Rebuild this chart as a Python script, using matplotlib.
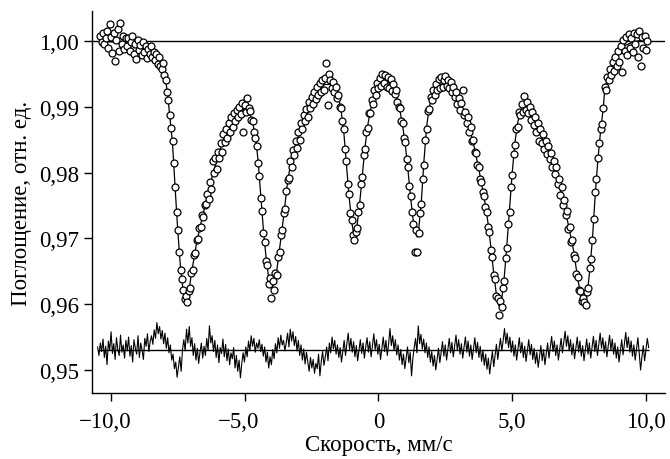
#!/usr/bin/env python3
"""Mossbauer absorption spectrum with fitted envelope and residual trace."""
import numpy as np
import matplotlib
matplotlib.use("Agg")
import matplotlib.pyplot as plt
from matplotlib.transforms import ScaledTranslation

# Measured absorption, units of 1e-4, one channel every 0.05 mm/s from -10.40 to 10.05
ABSORB_E4 = [
    # -10.40 .. -9.45
    10008, 9998, 10012, 9995, 10004, 10015, 9990, 10026, 10006, 9982,
    10012, 9970, 10002, 10018, 9985, 10027, 9996, 10008, 9988, 10004,
    # -9.40 .. -8.45
    9992, 10005, 9985, 9998, 10008, 9980, 9995, 9972, 10002, 9986,
    9994, 9978, 9999, 9983, 9992, 9974, 9988, 9980, 9992, 9976,
    # -8.40 .. -7.45
    9984, 9971, 9980, 9965, 9975, 9962, 9958, 9966, 9948, 9940,
    9923, 9910, 9888, 9868, 9848, 9815, 9778, 9740, 9712, 9680,
    # -7.40 .. -6.45
    9652, 9638, 9622, 9608, 9612, 9603, 9620, 9625, 9648, 9652,
    9674, 9678, 9697, 9699, 9716, 9718, 9735, 9733, 9750, 9752,
    # -6.40 .. -5.45
    9768, 9760, 9786, 9775, 9818, 9800, 9822, 9805, 9832, 9822,
    9845, 9832, 9858, 9846, 9866, 9852, 9875, 9862, 9884, 9870,
    # -5.40 .. -4.45
    9890, 9878, 9895, 9884, 9900, 9889, 9906, 9862, 9903, 9892,
    9914, 9898, 9893, 9880, 9878, 9862, 9852, 9840, 9815, 9795,
    # -4.40 .. -3.45
    9762, 9742, 9708, 9695, 9665, 9660, 9630, 9640, 9610, 9635,
    9622, 9648, 9645, 9672, 9680, 9705, 9712, 9738, 9745, 9772,
    # -3.40 .. -2.45
    9788, 9792, 9818, 9808, 9835, 9826, 9848, 9838, 9862, 9850,
    9875, 9866, 9888, 9878, 9896, 9885, 9908, 9898, 9915, 9905,
    # -2.40 .. -1.45
    9922, 9912, 9930, 9918, 9936, 9922, 9940, 9926, 9944, 9967,
    9903, 9950, 9940, 9928, 9938, 9922, 9930, 9914, 9918, 9900,
    # -1.40 .. -0.45
    9898, 9878, 9866, 9836, 9818, 9782, 9768, 9738, 9728, 9705,
    9698, 9710, 9716, 9740, 9750, 9782, 9794, 9826, 9836, 9862,
    # -0.40 .. 0.55
    9868, 9890, 9890, 9910, 9905, 9925, 9918, 9936, 9928, 9944,
    9932, 9950, 9936, 9948, 9930, 9945, 9928, 9942, 9924, 9935,
    # 0.60 .. 1.55
    9920, 9926, 9908, 9900, 9898, 9878, 9875, 9852, 9846, 9820,
    9808, 9780, 9765, 9740, 9722, 9680, 9712, 9679, 9708, 9738,
    # 1.60 .. 2.55
    9752, 9790, 9812, 9850, 9866, 9893, 9896, 9915, 9910, 9925,
    9918, 9935, 9925, 9942, 9928, 9945, 9930, 9940, 9947, 9932,
    # 2.60 .. 3.55
    9940, 9928, 9938, 9922, 9930, 9915, 9922, 9905, 9914, 9895,
    9906, 9925, 9888, 9892, 9876, 9884, 9862, 9870, 9848, 9850,
    # 3.60 .. 4.55
    9832, 9830, 9812, 9808, 9790, 9786, 9770, 9765, 9748, 9740,
    9718, 9710, 9682, 9672, 9645, 9638, 9612, 9610, 9583, 9605,
    # 4.60 .. 5.55
    9596, 9625, 9635, 9670, 9686, 9722, 9740, 9778, 9796, 9828,
    9842, 9866, 9870, 9892, 9888, 9905, 9892, 9916, 9895, 9908,
    # 5.60 .. 6.55
    9890, 9900, 9880, 9892, 9872, 9884, 9862, 9876, 9848, 9866,
    9845, 9858, 9836, 9848, 9828, 9840, 9820, 9830, 9808, 9818,
    # 6.60 .. 7.55
    9798, 9808, 9782, 9790, 9766, 9778, 9750, 9758, 9735, 9742,
    9715, 9718, 9694, 9698, 9675, 9670, 9646, 9642, 9622, 9620,
    # 7.60 .. 8.55
    9605, 9610, 9603, 9598, 9618, 9625, 9655, 9668, 9698, 9730,
    9770, 9790, 9822, 9845, 9866, 9874, 9898, 9930, 9926, 9945,
    # 8.60 .. 9.55
    9940, 9958, 9948, 9968, 9955, 9975, 9962, 9985, 9968, 9992,
    9953, 10002, 9985, 10006, 9978, 10010, 9990, 10004, 9984, 10012,
    # 9.60 .. 10.05
    9996, 10010, 9975, 10015, 9962, 10006, 9990, 10008, 9986, 10000,
]
V_START, V_STOP = -10.40, 10.05

# Fitted envelope (velocity mm/s, absorption 1e-4)
FIT_V = [
    -10.40, -9.50, -9.00, -8.50, -8.20, -8.00, -7.90, -7.80, -7.70, -7.60,
    -7.50, -7.40, -7.30, -7.20, -7.10, -7.00, -6.80, -6.60, -6.40, -6.20,
    -6.00, -5.80, -5.60, -5.40, -5.20, -5.00, -4.90, -4.80, -4.70, -4.60,
    -4.50, -4.40, -4.30, -4.20, -4.10, -4.00, -3.90, -3.80, -3.70, -3.60,
    -3.50, -3.40, -3.30, -3.20, -3.00, -2.80, -2.60, -2.40, -2.20, -2.00,
    -1.80, -1.60, -1.50, -1.40, -1.30, -1.20, -1.10, -1.00, -0.90, -0.80,
    -0.70, -0.60, -0.50, -0.40, -0.30, -0.20, -0.10, 0.00, 0.20, 0.40,
    0.60, 0.70, 0.80, 0.90, 1.00, 1.10, 1.20, 1.30, 1.40, 1.45,
    1.50, 1.60, 1.70, 1.80, 1.90, 2.00, 2.20, 2.40, 2.60, 2.80,
    3.00, 3.20, 3.40, 3.60, 3.80, 4.00, 4.10, 4.20, 4.30, 4.40,
    4.50, 4.60, 4.70, 4.80, 4.90, 5.00, 5.10, 5.20, 5.30, 5.40,
    5.50, 5.60, 5.80, 6.00, 6.20, 6.40, 6.60, 6.80, 7.00, 7.20,
    7.30, 7.40, 7.50, 7.60, 7.70, 7.80, 7.90, 8.00, 8.10, 8.20,
    8.30, 8.40, 8.45, 8.50, 8.60, 8.80, 9.00, 9.20, 9.50, 9.80,
    10.05,
]
FIT_E4 = [
    10000, 9997, 9993, 9985, 9970, 9950, 9925, 9885, 9845, 9775,
    9710, 9655, 9620, 9605, 9615, 9645, 9693, 9730, 9763, 9797,
    9825, 9850, 9868, 9883, 9893, 9897, 9895, 9888, 9875, 9855,
    9818, 9765, 9712, 9670, 9638, 9625, 9632, 9652, 9683, 9715,
    9750, 9785, 9810, 9828, 9855, 9880, 9900, 9917, 9928, 9934,
    9934, 9926, 9915, 9895, 9863, 9813, 9764, 9725, 9700, 9720,
    9755, 9798, 9840, 9872, 9895, 9910, 9925, 9935, 9941, 9937,
    9925, 9912, 9895, 9872, 9843, 9805, 9762, 9727, 9706, 9702,
    9712, 9755, 9818, 9870, 9900, 9915, 9930, 9935, 9935, 9925,
    9910, 9892, 9868, 9835, 9795, 9750, 9722, 9687, 9650, 9617,
    9598, 9605, 9640, 9690, 9745, 9800, 9845, 9875, 9893, 9900,
    9900, 9896, 9880, 9862, 9845, 9828, 9803, 9773, 9740, 9700,
    9680, 9652, 9627, 9607, 9596, 9615, 9652, 9700, 9765, 9818,
    9862, 9897, 9922, 9934, 9950, 9967, 9982, 9993, 9998, 10001,
    10001,
]

# Residual trace (shifted to 0.953), units of 1e-4
RESID_E4 = [
    9535, 9522, 9541, 9528, 9547, 9519, 9536, 9508, 9544, 9530,
    9558, 9525, 9540, 9516, 9549, 9531, 9522, 9553, 9527, 9538,
    9518, 9545, 9529, 9550, 9521, 9537, 9512, 9546, 9533, 9524,
    9552, 9519, 9541, 9530, 9516, 9548, 9536, 9555, 9528, 9543,
    9552, 9539, 9561, 9548, 9572, 9555, 9566, 9547, 9560, 9540,
    9556, 9533, 9549, 9526, 9538, 9515, 9524, 9502, 9512, 9489,
    9505, 9520, 9498, 9531, 9546, 9529, 9562, 9541, 9566, 9536,
    9549, 9522, 9540, 9515, 9533, 9510, 9527, 9541, 9518, 9536,
    9522, 9548, 9530, 9567, 9541, 9552, 9528, 9545, 9519, 9538,
    9511, 9534, 9525, 9547, 9520, 9539, 9514, 9532, 9508, 9526,
    9517, 9534, 9503, 9522, 9498, 9515, 9488, 9510, 9526, 9512,
    9535, 9520, 9544, 9529, 9552, 9536, 9548, 9527, 9541, 9533,
    9546, 9528, 9539, 9521, 9535, 9512, 9527, 9503, 9520, 9508,
    9531, 9517, 9540, 9526, 9549, 9533, 9553, 9538, 9545, 9529,
    9541, 9556, 9535, 9562, 9544, 9558, 9537, 9551, 9529, 9545,
    9522, 9538, 9515, 9532, 9509, 9527, 9513, 9498, 9519, 9503,
    9516, 9495, 9510, 9502, 9524, 9491, 9513, 9528, 9507, 9520,
    9535, 9514, 9541, 9526, 9550, 9532, 9545, 9524, 9538, 9519,
    9534, 9512, 9529, 9545, 9522, 9540, 9556, 9531, 9548, 9527,
    9543, 9520, 9537, 9514, 9530, 9546, 9525, 9541, 9518, 9535,
    9549, 9527, 9543, 9520, 9538, 9555, 9531, 9546, 9524, 9539,
    9516, 9533, 9550, 9528, 9545, 9522, 9540, 9563, 9537, 9552,
    9530, 9546, 9523, 9538, 9515, 9531, 9508, 9524, 9502, 9519,
    9535, 9511, 9527, 9491, 9518, 9534, 9548, 9526, 9567, 9540,
    9554, 9532, 9547, 9526, 9541, 9519, 9535, 9512, 9528, 9506,
    9522, 9500, 9517, 9533, 9511, 9527, 9543, 9521, 9538, 9515,
    9531, 9548, 9526, 9542, 9520, 9537, 9553, 9530, 9546, 9524,
    9540, 9518, 9535, 9550, 9527, 9544, 9521, 9538, 9516, 9533,
    9549, 9526, 9542, 9519, 9536, 9513, 9530, 9507, 9524, 9501,
    9518, 9494, 9512, 9528, 9505, 9522, 9539, 9516, 9533, 9548,
    9529, 9545, 9563, 9540, 9556, 9534, 9550, 9527, 9544, 9521,
    9538, 9515, 9532, 9549, 9526, 9542, 9519, 9536, 9513, 9530,
    9546, 9523, 9539, 9516, 9533, 9510, 9527, 9504, 9521, 9537,
    9514, 9531, 9508, 9525, 9541, 9518, 9535, 9551, 9528, 9544,
    9522, 9538, 9515, 9532, 9548, 9526, 9543, 9559, 9536, 9552,
    9529, 9546, 9523, 9540, 9517, 9534, 9550, 9527, 9544, 9521,
    9537, 9514, 9531, 9547, 9524, 9541, 9518, 9535, 9551, 9528,
    9545, 9522, 9539, 9556, 9533, 9549, 9526, 9543, 9520, 9537,
    9553, 9530, 9547, 9524, 9541, 9518, 9535, 9512, 9529, 9546,
    9523, 9540, 9557, 9534, 9550, 9527, 9544, 9521, 9538, 9515,
    9532, 9549, 9526, 9500, 9520, 9537, 9514, 9531, 9548, 9534,
]
RESID_V_START, RESID_V_STOP = -10.50, 10.10
RESID_BASE = 0.953

XTICKS = [-10, -5, 0, 5, 10]
XTICK_LABELS = ["\u221210,0", "\u22125,0", "0", "5,0", "10,0"]
YTICKS = [0.95, 0.96, 0.97, 0.98, 0.99, 1.00]
YTICK_LABELS = ["0,95", "0,96", "0,97", "0,98", "0,99", "1,00"]


def main():
    plt.rcParams["font.family"] = ["Liberation Serif", "DejaVu Serif"]
    plt.rcParams["font.size"] = 16.5

    absorb = np.array(ABSORB_E4) / 1e4
    vel = np.linspace(V_START, V_STOP, len(absorb))
    fit = np.array(FIT_E4) / 1e4
    resid = np.array(RESID_E4) / 1e4
    resid_v = np.linspace(RESID_V_START, RESID_V_STOP, len(resid))

    fig = plt.figure(figsize=(6.7, 4.6), dpi=100)
    ax = fig.add_axes([0.1373, 0.1435, 0.8552, 0.8304])

    ax.axhline(1.0, color="black", lw=1.0, zorder=1)
    ax.plot(FIT_V, fit, color="black", lw=0.9, zorder=2)
    ax.plot(vel, absorb, linestyle="none", marker="o", markersize=5.0,
            markerfacecolor="white", markeredgecolor="black",
            markeredgewidth=0.9, zorder=3)

    ax.plot(resid_v, resid, color="black", lw=0.8, zorder=2)
    ax.hlines(RESID_BASE, resid_v[0], resid_v[-1], color="black", lw=1.0, zorder=3)

    ax.set_xlim(-10.71, 10.71)
    ax.set_ylim(0.9465, 1.00456)
    ax.set_xticks(XTICKS, XTICK_LABELS)
    ax.set_yticks(YTICKS, YTICK_LABELS)

    for side in ("top", "right"):
        ax.spines[side].set_visible(False)
    for side in ("left", "bottom"):
        ax.spines[side].set_linewidth(1.0)
    ax.tick_params(direction="out", length=6, width=1.0, pad=3.5)
    ax.tick_params(axis="x", pad=7)

    # negative labels are centred on the digits, the minus hangs to the left
    shift = ScaledTranslation(-4.5 / 72, 0, fig.dpi_scale_trans)
    for lab in ax.get_xticklabels():
        if lab.get_text().startswith("\u2212"):
            lab.set_transform(lab.get_transform() + shift)

    ax.set_xlabel("Скорость, мм/с", labelpad=1.5)
    ax.set_ylabel("Поглощение, отн. ед.", labelpad=5)

    fig.savefig("out.png", dpi=100)
    plt.close(fig)


if __name__ == "__main__":
    main()
